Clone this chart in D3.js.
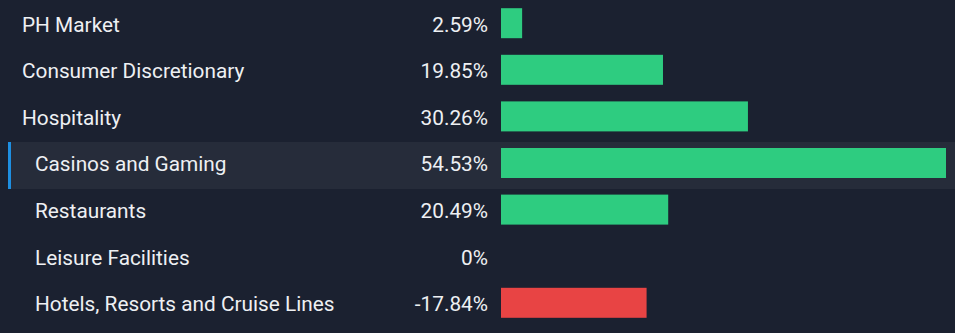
<!DOCTYPE html>
<html>
<head>
<meta charset="utf-8">
<script src="https://cdn.jsdelivr.net/npm/d3@7"></script>
<style>
  html, body { margin: 0; padding: 0; background: #1b2130; }
  svg { display: block; }
</style>
</head>
<body>
<svg id="chart" width="955" height="333"></svg>
<script>
// Return by sector / industry
const categories = ["PH Market", "Consumer Discretionary", "Hospitality", "Casinos and Gaming", "Restaurants", "Leisure Facilities", "Hotels, Resorts and Cruise Lines"];
const values = [2.59, 19.85, 30.26, 54.53, 20.49, 0, -17.84];
const levels = [0, 0, 0, 1, 1, 1, 1];
const highlighted = "Casinos and Gaming";

const W = 955;
const svg = d3.select("#chart");

const y = d3.scaleBand()
  .domain(categories)
  .range([2.2, 2.2 + 46.6 * categories.length]);

const x = d3.scaleLinear()
  .domain([0, d3.max(values, v => Math.abs(v))])
  .range([501, 946]);

const fmt = v => (v === 0 ? "0" : v.toFixed(2)) + "%";

const rows = svg.selectAll("g.row")
  .data(categories.map((c, i) => ({ name: c, value: values[i], level: levels[i] })))
  .join("g")
  .attr("class", "row")
  .attr("transform", d => `translate(0,${y(d.name)})`);

const bh = y.bandwidth();
const barTop = 6, barH = 30, mid = barTop + barH / 2;

// highlighted row background + accent stripe
rows.filter(d => d.name === highlighted).call(g => {
  g.append("rect").attr("x", 8).attr("y", 0).attr("width", W - 8).attr("height", bh + 0.4)
    .attr("fill", "#262c3a");
  g.append("rect").attr("x", 8).attr("y", 0).attr("width", 3).attr("height", bh + 0.4)
    .attr("fill", "#1e8fe1");
});

const font = t => t
  .attr("fill", "#eef0f3")
  .style("font-family", "Roboto, sans-serif")
  .style("font-size", "20.8px");

rows.append("text")
  .attr("x", d => d.level ? 35 : 22)
  .attr("y", mid)
  .attr("dy", "0.4em")
  .call(font)
  .text(d => d.name);

rows.append("text")
  .attr("x", 488)
  .attr("y", mid)
  .attr("dy", "0.4em")
  .attr("text-anchor", "end")
  .call(font)
  .text(d => fmt(d.value));

rows.filter(d => d.value !== 0).append("rect")
  .attr("x", x(0))
  .attr("y", barTop)
  .attr("width", d => x(Math.abs(d.value)) - x(0))
  .attr("height", barH)
  .attr("fill", d => d.value >= 0 ? "#2ecc80" : "#e84444");
</script>
</body>
</html>
